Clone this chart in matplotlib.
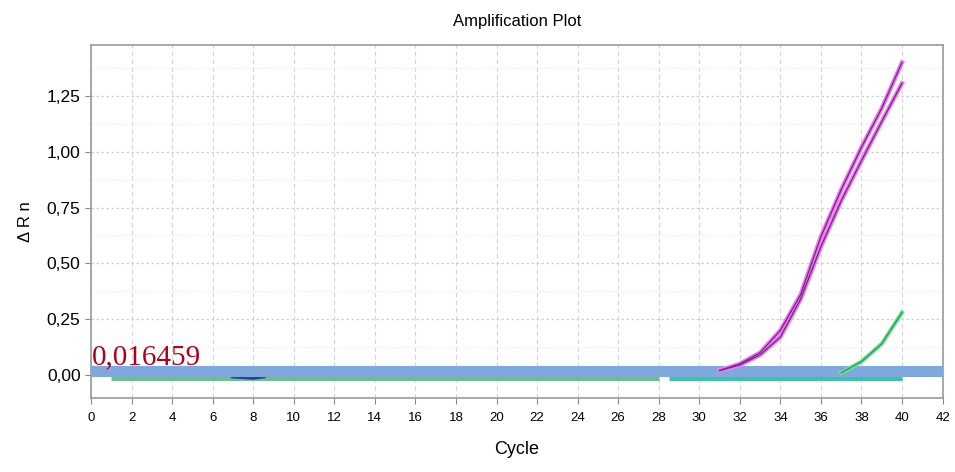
import matplotlib
matplotlib.use('Agg')
import matplotlib.pyplot as plt
from matplotlib.ticker import FuncFormatter, MultipleLocator

# Delta Rn per cycle for the wells
cycles = list(range(1, 41))
well_a = [0.0] * 30 + [0.02, 0.05, 0.10, 0.20, 0.36, 0.62, 0.83, 1.02, 1.195, 1.40]
well_b = [0.0] * 30 + [0.02, 0.045, 0.09, 0.17, 0.34, 0.575, 0.78, 0.96, 1.135, 1.307]
well_c = [-0.005] * 36 + [0.01, 0.06, 0.14, 0.28]
# flat negative wells
flat_cycles_1 = list(range(1, 29))
flat_1 = [-0.007] * 28
flat_cycles_2 = [28.5] + list(range(29, 41))
flat_2 = [-0.011] * 13
dip_cycles = [7, 8, 8.5]
dip_vals = [-0.006, -0.012, -0.006]

threshold = 0.016459
x_ticks = list(range(0, 43, 2))
y_ticks = [0.0, 0.25, 0.5, 0.75, 1.0, 1.25]

plt.rcParams['font.family'] = ['Liberation Sans', 'DejaVu Sans']

fig = plt.figure(figsize=(9.55, 4.72), dpi=100)
ax = fig.add_axes([0.0953, 0.1568, 0.8917, 0.7479])

ax.set_xlim(0, 42)
ax.set_ylim(-0.103, 1.478)

# grid
ax.set_xticks(x_ticks)
ax.set_yticks(y_ticks)
ax.yaxis.set_minor_locator(MultipleLocator(0.125))
ax.grid(True, which='major', axis='x', color='#d4d4d4', linestyle=(0, (4, 3)), linewidth=0.8)
ax.grid(True, which='major', axis='y', color='#cfcfcf', linestyle=(0, (2, 2)), linewidth=0.9)
ax.grid(True, which='minor', axis='y', color='#ececec', linestyle=(0, (2, 2)), linewidth=0.7)
ax.set_axisbelow(True)

# baseline wells
ax.plot(flat_cycles_1, flat_1, color='#6fbf8a', linewidth=5, solid_capstyle='butt', zorder=2)
ax.plot(dip_cycles, dip_vals, color='#1f3f9f', linewidth=3, zorder=2)
ax.plot(flat_cycles_2, flat_2, color='#3fc0a8', linewidth=5, solid_capstyle='butt', zorder=2)

# threshold band
ax.axhline(threshold, color='#7fa9dc', linewidth=8, zorder=3)

# amplified wells
for vals in (well_a, well_b):
    ax.plot(cycles[30:], vals[30:], color='#f07cf0', linewidth=3.2, zorder=4)
    ax.plot(cycles[30:], vals[30:], color='#7a2a8c', linewidth=1.0, zorder=5)
ax.plot(cycles[36:], well_c[36:], color='#6fe39a', linewidth=3.0, zorder=4)
ax.plot(cycles[36:], well_c[36:], color='#2f9a5a', linewidth=1.0, zorder=5)

ax.text(0.02, threshold + 0.004, '0,016459', color='#b0001a', fontsize=21,
        family=['Liberation Serif', 'DejaVu Serif'], va='bottom', ha='left', zorder=6)

ax.yaxis.set_major_formatter(FuncFormatter(lambda v, p: ('%.2f' % v).replace('.', ',')))
ax.tick_params(axis='y', which='major', labelsize=12.5, color='#888888', length=4, direction='out')
ax.tick_params(axis='y', which='minor', length=0)
ax.tick_params(axis='x', labelsize=9.5, color='#888888', length=4, direction='out', pad=6)
for s in ax.spines.values():
    s.set_color('#9a9a9a')
    s.set_linewidth(1.2)

ax.set_title('Amplification Plot', fontsize=12, pad=14)
ax.set_xlabel('Cycle', fontsize=13, labelpad=12)
ax.set_ylabel('Δ R n', fontsize=12, labelpad=10)

fig.savefig('out.png', dpi=100)
